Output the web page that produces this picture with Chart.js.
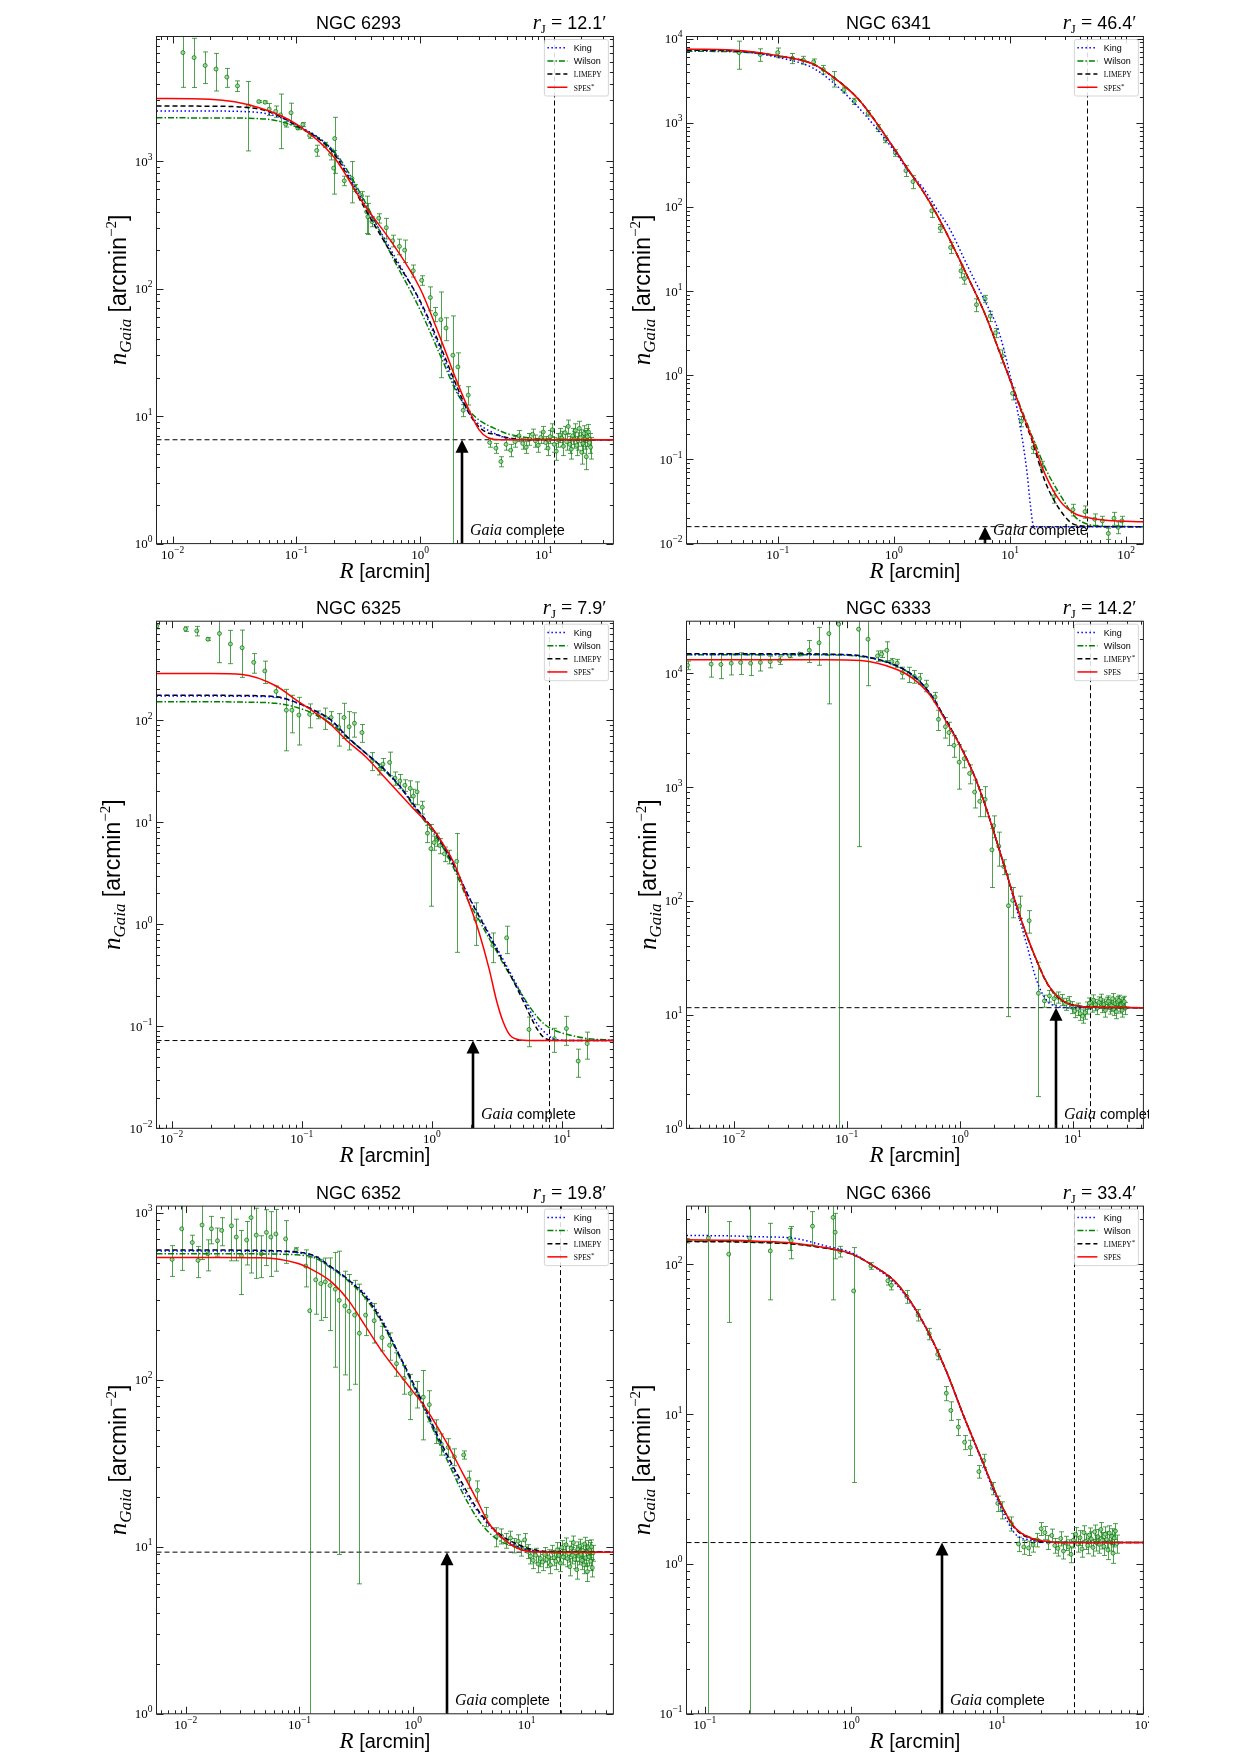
<!DOCTYPE html>
<html>
<head>
<meta charset="utf-8">
<script src="https://cdn.jsdelivr.net/npm/chart.js@4.4.1/dist/chart.umd.min.js"></script>
<style>
  html, body { margin: 0; padding: 0; background: #fff; }
  body { width: 1241px; height: 1754px; position: relative; overflow: hidden; }
  canvas { position: absolute; }
</style>
</head>
<body>
<canvas id="p0"></canvas>
<canvas id="p1"></canvas>
<canvas id="p2"></canvas>
<canvas id="p3"></canvas>
<canvas id="p4"></canvas>
<canvas id="p5"></canvas>
<script>
// ---- panel-level values ----
const clusters = ['NGC 6293', 'NGC 6341', 'NGC 6325', 'NGC 6333', 'NGC 6352', 'NGC 6366'];
const tidalRadius = [12.1, 46.4, 7.9, 14.2, 19.8, 33.4];
const tidalLabel = ['12.1', '46.4', '7.9', '14.2', '19.8', '33.4'];
const background = [6.52, 0.0159, 0.0724, 11.5, 9.29, 1.39];
const gaiaComplete = [2.19, 6.1, 2.06, 7.13, 2.0, 4.19];
const starredModel = ['SPES', 'SPES', 'SPES', 'LIMEPY', 'SPES', 'LIMEPY'];
const xRange = [[0.0074, 36.5], [0.0164, 140.6], [0.00765, 24.8], [0.00382, 42], [0.00552, 58], [0.0751, 100]];
const yRange = [[1, 9470], [0.01, 10600], [0.01, 931], [1, 28800], [1, 1097], [0.1, 245]];

// ---- NGC 6293 ----
const r6293 = [0.0121, 0.0149, 0.0183, 0.0224, 0.0274, 0.0334, 0.041, 0.0497, 0.0558, 0.0603, 0.068, 0.0744, 0.082, 0.0905,
  0.1025, 0.113, 0.128, 0.146, 0.171, 0.189, 0.200, 0.204, 0.244, 0.281, 0.296, 0.336, 0.370, 0.378, 0.408, 0.463, 0.533,
  0.600, 0.680, 0.750, 0.880, 1.03, 1.21, 1.33, 1.47, 1.62, 1.84, 2.02, 2.23, 2.45,
  3.65, 4.1, 4.5, 4.95, 5.4, 5.85, 6.3, 6.75, 7.2, 7.65, 8.1, 8.55, 9.0, 9.45, 9.9, 10.35, 10.8, 11.25, 11.7, 12.15, 12.6,
  13.05, 13.5, 13.95, 14.4, 14.85, 15.3, 15.75, 16.2, 16.65, 17.1, 17.55, 18.0, 18.45, 18.9, 19.35, 19.8, 20.25, 20.7,
  21.15, 21.6, 22.05, 22.5, 22.95, 23.4, 23.85];
const n6293 = [7080, 6470, 5610, 5260, 4550, 3880, 2700, 2925, 2890, 2550, 2450, 2300, 1945, 2390,
  1820, 1930, 1585, 1210, 1340, 1130, 880, 1500, 700, 730, 615, 535, 400, 365, 335, 356, 300,
  237, 214, 200, 138, 116, 85, 63, 57, 49, 30, 24.3, 11.1, 14.6,
  6.2, 5.6, 4.4, 6.0, 5.4, 6.3, 7.0, 6.1, 5.7, 6.6, 7.2, 6.4, 5.9, 6.8, 7.5, 6.2, 5.6, 6.9, 7.8, 6.0, 5.3,
  6.5, 7.1, 6.7, 5.8, 7.4, 6.3, 8.3, 6.0, 5.5, 7.0, 6.6, 7.7, 5.9, 6.4, 8.0, 6.8, 5.2, 6.1,
  7.3, 6.6, 4.8, 6.9, 7.5, 6.2, 5.7];
const s6293 = [3300, 2700, 1560, 1720, 770, 370, 1500, 50, 60, 280, 250, 1050, 100, 450,
  60, 70, 80, 120, 60, 110, 330, 700, 60, 260, 40, 40, 130, 100, 30, 30, 55,
  25, 30, 40, 15, 10, 18, 8, 37, 10, 31, 7, 1.2, 2.4,
  0.5, 0.5, 0.4, 0.6, 0.6, 0.6, 0.7, 0.6, 0.6, 0.7, 0.7, 0.7, 0.7, 0.7, 0.8, 0.7, 0.7, 0.8, 0.9, 0.8, 0.8,
  0.8, 0.9, 0.9, 0.9, 0.9, 0.9, 1.0, 0.9, 0.9, 1.0, 1.0, 1.0, 1.0, 1.0, 1.1, 1.0, 1.0, 1.0,
  1.1, 1.1, 1.0, 1.1, 1.1, 1.1, 1.1];
const grid6293 = [0.0074, 0.02, 0.05, 0.1, 0.2, 0.35, 0.6, 1.0, 1.5, 2.0, 2.5, 3.0, 3.5, 4.0, 5.0, 6.0, 8.0, 12, 20, 36.5];
const king6293 = [2470, 2465, 2400, 1920, 1180, 470, 190, 78, 31, 15.5, 10.5, 8.6, 7.8, 7.3, 6.7, 6.55, 6.52, 6.52, 6.52, 6.52];
const wilson6293 = [2180, 2178, 2150, 1850, 1200, 500, 175, 68, 28, 15, 11, 9.3, 8.5, 8.0, 7.3, 7.0, 6.7, 6.6, 6.55, 6.52];
const limepy6293 = [2700, 2690, 2550, 1900, 1150, 440, 181, 80, 33, 16.7, 10.4, 8.2, 7.4, 7.2, 6.8, 6.6, 6.52, 6.52, 6.52, 6.52];
const spes6293 = [3090, 3050, 2620, 1950, 1080, 460, 225, 100, 38, 18.3, 11.0, 7.8, 6.8, 6.55, 6.52, 6.52, 6.52, 6.52, 6.52, 6.52];

// ---- NGC 6341 ----
const r6341 = [0.0464, 0.0708, 0.1, 0.134, 0.166, 0.204, 0.247, 0.303, 0.372, 0.456, 0.6, 0.735, 0.843, 1.03, 1.27, 1.46,
  2.12, 2.51, 3.08, 3.78, 4.05, 5.14, 6.1, 6.75, 7.5, 8.6, 10.5, 12.5, 15.8, 18.8, 23.9, 34.8, 44.2, 53.5, 62.3, 70.2,
  78.5, 85.3, 91.8];
const n6341 = [6830, 6470, 6830, 5850, 5560, 5280, 4300, 3360, 2460, 1800, 1300, 870, 640, 440, 270, 200,
  90, 56, 33, 17.4, 14.1, 6.9, 8.1, 5.05, 3.2, 1.7, 0.61, 0.284, 0.138, 0.083, 0.0362, 0.0253, 0.024, 0.0195, 0.0186, 0.0132,
  0.020, 0.0156, 0.0186];
const s6341 = [2500, 1100, 900, 800, 600, 450, 500, 700, 200, 150, 100, 80, 60, 40, 40, 35,
  15, 6, 5, 3, 2, 1.2, 0.8, 0.7, 0.4, 0.3, 0.1, 0.04, 0.02, 0.012, 0.006, 0.004, 0.004, 0.003, 0.0025, 0.002,
  0.0035, 0.0025, 0.0025];
const grid6341 = [0.0164, 0.05, 0.1, 0.2, 0.3, 0.5, 1, 1.3, 1.8, 2.3, 3, 4.3, 6, 8, 10, 12, 14, 15, 16, 20, 27, 36, 50, 70, 140.6];
const king6341 = [7400, 7000, 6000, 4500, 3000, 1500, 470, 280, 165, 98, 56, 20, 7.9, 3.3, 1.0, 0.29, 0.07, 0.028,
  0.0159, 0.0159, 0.0159, 0.0159, 0.0159, 0.0159, 0.0159];
const wilson6341 = [7100, 6900, 6200, 5000, 3500, 1880, 500, 290, 150, 85, 42, 15, 5.6, 2.0, 0.9, 0.46, 0.27, 0.21,
  0.17, 0.08, 0.038, 0.021, 0.0166, 0.016, 0.0159];
const limepy6341 = [7300, 7050, 6250, 5010, 3500, 1880, 500, 290, 150, 85, 42, 15, 5.6, 2.0, 0.88, 0.44, 0.24, 0.19,
  0.145, 0.055, 0.025, 0.0168, 0.016, 0.0159, 0.0159];
const spes6341 = [7550, 7180, 6280, 5010, 3500, 1880, 500, 290, 150, 85, 42, 15, 5.6, 2.0, 0.88, 0.44, 0.256, 0.2,
  0.155, 0.067, 0.032, 0.0228, 0.0200, 0.0188, 0.0182];

// ---- NGC 6325 ----
const r6325 = [0.0077, 0.0128, 0.0156, 0.0190, 0.0233, 0.0283, 0.0348, 0.0427, 0.052, 0.0634, 0.0761, 0.084, 0.095, 0.115,
  0.134, 0.152, 0.168, 0.192, 0.211, 0.231, 0.254, 0.29, 0.349, 0.395, 0.42, 0.473, 0.52, 0.567, 0.62, 0.68, 0.72, 0.769,
  0.843, 0.924, 0.982, 1.04, 1.1, 1.15, 1.25, 1.35, 1.55, 2.17, 2.94, 3.75, 5.57, 8.71, 10.8, 13.3, 15.6];
const n6325 = [834, 780, 748, 621, 705, 557, 512, 368, 303, 191, 125, 125, 112, 114,
  113, 106, 106, 85.6, 106, 86, 93, 75.5, 40, 33, 37, 38.5, 27, 25.3, 23, 21.4, 18, 19.8,
  14, 7.8, 5.5, 6.3, 6.8, 5.9, 4.9, 4.6, 4.13, 1.12, 0.62, 0.735, 0.093, 0.0755, 0.095, 0.0456, 0.0676];
const s6325 = [50, 40, 80, 20, 340, 200, 250, 80, 75, 25, 75, 50, 55, 30,
  10, 25, 15, 30, 40, 35, 25, 15, 8, 4, 5, 10, 4, 4, 3, 4, 3, 5,
  2, 1.5, 4, 1, 1, 1, 0.8, 0.7, 3.6, 0.5, 0.2, 0.22, 0.03, 0.02, 0.03, 0.014, 0.02];
const grid6325 = [0.00765, 0.02, 0.035, 0.063, 0.092, 0.124, 0.168, 0.228, 0.31, 0.42, 0.57, 0.77, 1.0, 1.25, 1.5, 1.92,
  2.3, 2.76, 3.12, 3.53, 4.0, 4.8, 5.7, 6.5, 7.3, 8.8, 12, 16, 24.8];
const king6325 = [172, 172, 171, 168, 147, 124, 99, 67, 47.5, 34, 22.3, 13.3, 8.7, 5.6, 3.65, 1.87,
  1.23, 0.8, 0.6, 0.45, 0.335, 0.215, 0.14, 0.104, 0.088, 0.0745, 0.0724, 0.0724, 0.0724];
const wilson6325 = [151, 151, 150, 146, 133, 115, 92, 66, 47.5, 33, 22, 12.8, 8.2, 5.3, 3.35, 1.65,
  1.1, 0.72, 0.55, 0.41, 0.315, 0.215, 0.152, 0.122, 0.105, 0.091, 0.081, 0.0755, 0.073];
const limepy6325 = [175, 175, 174, 170, 148, 125, 100, 67, 47.5, 34, 22.3, 13.4, 8.8, 5.6, 3.6, 1.85,
  1.2, 0.775, 0.578, 0.43, 0.318, 0.2, 0.126, 0.092, 0.077, 0.0727, 0.0724, 0.0724, 0.0724];
const spes6325 = [286, 286, 280, 217, 155, 120, 89.5, 61, 43.7, 28.7, 18.8, 12.4, 8.8, 5.8, 3.8, 1.64,
  0.834, 0.359, 0.183, 0.11, 0.081, 0.0735, 0.0726, 0.0724, 0.0724, 0.0724, 0.0724, 0.0724, 0.0724];

// ---- NGC 6333 ----
const r6333 = [0.0039, 0.00631, 0.0077, 0.0095, 0.0115, 0.0141, 0.0172, 0.021, 0.0255, 0.0313, 0.0382, 0.0466, 0.0568,
  0.0694, 0.0847, 0.127, 0.154, 0.187, 0.203, 0.226, 0.25, 0.279, 0.31, 0.357, 0.396, 0.44, 0.506, 0.603, 0.647, 0.745,
  0.8, 0.888, 0.986, 1.095, 1.22, 1.35, 1.5, 1.67, 1.92, 1.99, 2.21, 2.45, 2.69, 2.93, 3.37, 4.1, 4.95,
  5.6, 6.2, 6.8, 7.4, 8.0, 8.6, 9.2, 9.8, 10.4, 11.0, 11.6, 12.2, 12.8, 13.4, 14.0, 14.6, 15.2, 15.8, 16.4, 17.0,
  17.6, 18.2, 18.8, 19.4, 20.0, 20.6, 21.2, 21.8, 22.4, 23.0, 23.6, 24.2, 24.8, 25.4, 26.0, 26.6, 27.2, 27.8, 28.4, 29.0];
const n6333 = [11800, 12080, 12000, 12300, 12500, 12300, 12500, 12700, 13000, 14260, 14800, 15970, 18600,
  22400, 27100, 24500, 20000, 14260, 14800, 15970, 12740, 12300, 10150, 9830, 9400, 9000, 7800, 6210, 3950, 3400,
  3020, 2330, 1660, 1780, 1320, 906, 750, 780, 281, 459, 302, 200, 90.6, 101, 90, 67, 15.4,
  13.2, 14.6, 13.8, 14.2, 13.5, 12.4, 12.9, 11.6, 10.8, 11.2, 10.2, 9.7, 10.4, 11.5, 12.6, 11.9, 13.4, 12.2, 11.4, 12.8,
  13.6, 11.8, 12.3, 10.9, 12.7, 13.1, 11.5, 12.0, 13.8, 11.2, 12.5, 10.6, 12.9, 13.3, 11.7, 12.2, 10.9, 12.6, 13.0, 11.4];
const s6333 = [1000, 2800, 3000, 2600, 2700, 2700, 2000, 1500, 1000, 500, 500, 3500, 6800,
  17000, 28000, 24200, 12200, 1500, 1000, 3000, 800, 1000, 1200, 1500, 1200, 1000, 900, 600, 800, 700,
  700, 500, 700, 300, 250, 250, 200, 230, 150, 100, 100, 30, 81, 30, 20, 15, 13.5,
  1.6, 1.7, 1.6, 1.6, 1.5, 1.5, 1.5, 1.4, 1.4, 1.4, 1.3, 1.3, 1.3, 1.4, 1.4, 1.4, 1.5, 1.4, 1.4, 1.5,
  1.5, 1.4, 1.4, 1.4, 1.5, 1.5, 1.4, 1.4, 1.5, 1.4, 1.5, 1.4, 1.5, 1.5, 1.4, 1.5, 1.4, 1.5, 1.5, 1.4];
const grid6333 = [0.00382, 0.03, 0.066, 0.133, 0.27, 0.383, 0.543, 0.77, 1.0, 1.35, 1.67, 2.06, 2.54, 3.14, 3.87, 4.77,
  5.9, 7.3, 9.0, 11.9, 16, 42];
const king6333 = [14700, 14700, 14650, 14200, 11800, 9600, 6700, 3750, 2350, 1245, 700, 365, 183, 88, 42.5, 20,
  13.2, 11.8, 11.5, 11.5, 11.5, 11.5];
const wilson6333 = [14600, 14600, 14550, 14100, 11700, 9600, 6650, 3720, 2340, 1243, 700, 365, 185, 93.5, 50.8, 30.2,
  19.1, 14.5, 12.6, 11.8, 11.6, 11.5];
const limepy6333 = [14900, 14900, 14800, 14300, 11800, 9640, 6700, 3750, 2350, 1245, 700, 365, 185, 93.5, 50.5, 29.8,
  18.8, 14.3, 12.5, 11.8, 11.6, 11.5];
const spes6333 = [13200, 13200, 13200, 13000, 10950, 9060, 6450, 3660, 2330, 1240, 700, 365, 185, 94, 51, 30,
  18.9, 14.4, 12.5, 11.8, 11.6, 11.5];

// ---- NGC 6352 ----
const r6352 = [0.00757, 0.0092, 0.0114, 0.0128, 0.0139, 0.0156, 0.0168, 0.019, 0.0207, 0.0252, 0.0278, 0.0309, 0.0343,
  0.0375, 0.0417, 0.0461, 0.0512, 0.056, 0.062, 0.0756, 0.0935, 0.1137, 0.1232, 0.139, 0.154, 0.169, 0.186, 0.207, 0.224,
  0.251, 0.273, 0.306, 0.337, 0.382, 0.455, 0.533, 0.622, 0.715, 0.834, 0.946, 1.087, 1.23, 1.39, 1.6, 1.77, 2.04, 2.31,
  2.79, 3.1, 3.69, 4.38, 5.4,
  6.0, 6.6, 7.2, 7.8, 8.4, 9.0, 9.6, 10.2, 10.8, 11.4, 12.0, 12.6, 13.2, 13.8, 14.4, 15.0, 15.6, 16.2, 16.8, 17.4, 18.0,
  18.6, 19.2, 19.8, 20.4, 21.0, 21.6, 22.2, 22.8, 23.4, 24.0, 24.6, 25.2, 25.8, 26.4, 27.0, 27.6, 28.2, 28.8, 29.4, 30.0,
  30.6, 31.2, 31.8, 32.4, 33.0, 33.6, 34.2, 34.8, 35.4, 36.0, 36.6, 37.2, 37.8, 38.4];
const n6352 = [526, 802, 664, 519, 845, 569, 802, 680, 785, 836, 716, 554, 687,
  936, 735, 569, 763, 716, 747, 698, 598, 480, 259, 397, 377, 386, 367, 349, 299,
  277, 257, 244, 190, 244, 226, 179, 161, 125, 102, 82.8, 82.8, 78.7, 71, 49.6, 41.4, 39.4, 34.6,
  35.5, 25.4, 21.8, 15.2, 11.5,
  11.6, 10.9, 11.3, 10.2, 10.8, 9.8, 11.0, 9.4, 8.8, 8.3, 8.9, 7.9, 8.5, 8.1, 9.0, 8.4, 8.7, 7.8, 9.3, 8.6, 8.2,
  9.6, 8.9, 8.0, 9.9, 8.7, 9.4, 10.3, 8.5, 9.1, 7.6, 9.8, 8.9, 10.6, 8.4, 9.2, 7.3, 9.7, 8.8, 10.1, 9.0,
  8.3, 9.5, 7.8, 10.4, 8.6, 9.3, 7.1, 9.9, 8.7, 9.6, 8.2, 10.0, 7.5, 9.2];
const s6352 = [110, 350, 70, 110, 320, 120, 150, 130, 150, 320, 200, 230, 200,
  500, 330, 160, 280, 300, 300, 200, 20, 120, 280, 150, 150, 150, 170, 230, 290,
  170, 170, 150, 184, 60, 60, 30, 30, 20, 20, 25, 15, 35, 15, 8, 6, 5, 4,
  2, 3, 3, 2, 1.5,
  1.2, 1.1, 1.1, 1.0, 1.0, 1.0, 1.0, 0.9, 0.9, 0.9, 0.9, 0.9, 0.9, 0.9, 0.9, 0.9, 0.9, 0.9, 0.9, 0.9, 0.9,
  1.0, 0.9, 0.9, 1.0, 0.9, 1.0, 1.0, 0.9, 1.0, 0.9, 1.0, 1.0, 1.0, 1.0, 1.0, 0.9, 1.0, 1.0, 1.0, 1.0,
  1.0, 1.0, 0.9, 1.0, 1.0, 1.0, 0.9, 1.0, 1.0, 1.0, 1.0, 1.0, 0.9, 1.0];
const grid6352 = [0.00552, 0.02, 0.047, 0.094, 0.134, 0.19, 0.27, 0.382, 0.541, 0.767, 1.0, 1.25, 1.54, 2.04, 2.69, 3.56,
  4.7, 6.2, 8.2, 10.2, 12.5, 16, 58];
const king6352 = [590, 590, 588, 578, 550, 472, 398, 323, 225, 138, 95, 69, 50, 33.5, 23, 16.9,
  13.4, 11.2, 10.1, 9.6, 9.4, 9.3, 9.29];
const wilson6352 = [569, 569, 567, 560, 540, 467, 390, 307, 215, 135, 93, 67, 48.5, 32, 21.5, 15.3,
  12.1, 10.6, 10.0, 9.6, 9.4, 9.3, 9.29];
const limepy6352 = [598, 598, 595, 583, 555, 475, 397, 315, 220, 138, 96, 70, 51, 34.5, 24.2, 17.4,
  13.6, 11.5, 10.4, 9.8, 9.5, 9.35, 9.29];
const spes6352 = [540, 540, 538, 500, 451, 387, 299, 209, 146, 107, 85, 70, 56, 40.4, 28.2, 19.7,
  13.7, 11.2, 9.84, 9.4, 9.3, 9.29, 9.29];

// ---- NGC 6366 ----
const r6366 = [0.0755, 0.106, 0.146, 0.203, 0.281, 0.382, 0.39, 0.546, 0.755, 0.78, 0.84, 1.044, 1.37, 1.79, 1.89, 2.41,
  2.88, 3.43, 3.92, 4.49, 4.82, 5.43, 5.99, 6.55, 7.5, 8.1, 9.3, 10.1, 10.8, 12.5,
  14.0, 15.2, 16.4, 17.6, 18.8, 20.0, 21.2, 22.4, 23.6, 24.8, 26.0, 27.2, 28.4, 29.6, 30.8, 32.0, 33.2, 34.4, 35.6, 36.8,
  38.0, 39.2, 40.4, 41.6, 42.8, 44.0, 45.2, 46.4, 47.6, 48.8, 50.0, 51.2, 52.4, 53.6, 54.8, 56.0, 57.2, 58.4, 59.6, 60.8,
  62.0, 63.2, 64.4, 65.6];
const n6366 = [144, 150, 117, 150, 123, 149, 144, 180, 206, 164, 122, 66.5, 97.7, 77.8, 72.6, 61,
  45.9, 34.4, 25.1, 13.8, 10.6, 8.2, 6.5, 6.0, 4.14, 4.9, 3.2, 2.54, 2.3, 1.86,
  1.36, 1.30, 1.28, 1.34, 1.45, 1.72, 1.62, 1.40, 1.55, 1.33, 1.27, 1.48, 1.22, 1.38, 1.30, 1.16, 1.44, 1.58, 1.36, 1.50,
  1.26, 1.62, 1.42, 1.33, 1.56, 1.47, 1.29, 1.64, 1.39, 1.52, 1.35, 1.70, 1.44, 1.31, 1.58, 1.46, 1.24, 1.61, 1.40, 1.53,
  1.18, 1.49, 1.66, 1.37];
const s6366 = [5, 400, 76, 400, 65, 25, 35, 45, 148, 55, 10, 63, 5, 5, 5, 6,
  4, 3, 2, 1.5, 1.5, 1, 0.7, 0.7, 0.4, 0.5, 0.3, 0.3, 0.3, 0.2,
  0.15, 0.14, 0.14, 0.14, 0.15, 0.17, 0.16, 0.15, 0.16, 0.15, 0.14, 0.16, 0.14, 0.15, 0.15, 0.14, 0.16, 0.17, 0.16, 0.17,
  0.15, 0.18, 0.17, 0.16, 0.18, 0.17, 0.16, 0.18, 0.17, 0.18, 0.17, 0.19, 0.18, 0.17, 0.19, 0.18, 0.17, 0.19, 0.18, 0.19,
  0.17, 0.19, 0.2, 0.19];
const grid6366 = [0.0751, 0.15, 0.23, 0.395, 0.678, 1.0, 1.52, 2.0, 2.62, 3.43, 4.49, 5.89, 7.7, 10.1, 13.2, 17.3, 22.7, 30, 100];
const king6366 = [156, 155, 153, 150, 132.5, 120, 93, 75, 53.5, 34, 19.2, 9.7, 5.1, 2.65, 1.6, 1.44, 1.40, 1.39, 1.39];
const wilson6366 = [143, 142.5, 141, 138, 128.5, 118, 94, 76.9, 54.5, 34.4, 19.4, 9.8, 5.2, 2.78, 1.76, 1.49, 1.41, 1.39, 1.39];
const limepy6366 = [142, 141.5, 140, 137, 128, 117.5, 94, 76.9, 54.5, 34.4, 19.4, 9.8, 5.2, 2.77, 1.73, 1.47, 1.40, 1.39, 1.39];
const spes6366 = [146, 145, 143, 139, 129, 118, 94, 76.9, 54.5, 34.4, 19.4, 9.78, 5.2, 2.77, 1.75, 1.48, 1.41, 1.39, 1.39];

const panelData = [
  { r: r6293, n: n6293, s: s6293, grid: grid6293, king: king6293, wilson: wilson6293, limepy: limepy6293, spes: spes6293 },
  { r: r6341, n: n6341, s: s6341, grid: grid6341, king: king6341, wilson: wilson6341, limepy: limepy6341, spes: spes6341 },
  { r: r6325, n: n6325, s: s6325, grid: grid6325, king: king6325, wilson: wilson6325, limepy: limepy6325, spes: spes6325 },
  { r: r6333, n: n6333, s: s6333, grid: grid6333, king: king6333, wilson: wilson6333, limepy: limepy6333, spes: spes6333 },
  { r: r6352, n: n6352, s: s6352, grid: grid6352, king: king6352, wilson: wilson6352, limepy: limepy6352, spes: spes6352 },
  { r: r6366, n: n6366, s: s6366, grid: grid6366, king: king6366, wilson: wilson6366, limepy: limepy6366, spes: spes6366 },
];

// ---- page layout (px) ----
const canvasCols = [[60, 620], [620, 1149]];
const canvasRows = [[0, 585], [585, 1170], [1170, 1754]];
const areaCols = [[156.5, 613.4], [686.5, 1143.4]];
const areaRows = [[36.5, 543.6], [621.2, 1128.3], [1206.1, 1713.8]];

const SANS = '"Liberation Sans", "DejaVu Sans", Arial, sans-serif';
const SERIF = '"Liberation Serif", "DejaVu Serif", "Times New Roman", serif';

const MODELS = [
  { key: 'king', label: 'King', color: '#0000ff', dash: [1.5, 2.5], order: 2 },
  { key: 'wilson', label: 'Wilson', color: '#008000', dash: [6, 2, 1.5, 2], order: 4 },
  { key: 'limepy', label: 'LIMEPY', color: '#000000', dash: [5, 3], order: 3 },
  { key: 'spes', label: 'SPES', color: '#ff0000', dash: [], order: 1 },
];

function drawRuns(ctx, runs, x, y, align) {
  let total = 0;
  runs.forEach(r => { ctx.font = r.font; r.w = ctx.measureText(r.t).width; total += r.w; });
  let cx = align === 'center' ? x - total / 2 : align === 'right' ? x - total : x;
  ctx.textAlign = 'left';
  ctx.textBaseline = 'alphabetic';
  runs.forEach(r => { ctx.font = r.font; ctx.fillText(r.t, cx, y + (r.dy || 0)); cx += r.w; });
  return total;
}

function powerRuns(e) {
  return [
    { t: '10', font: '13px ' + SERIF },
    { t: (e < 0 ? '\u2212' : '') + Math.abs(e), font: '9.5px ' + SERIF, dy: -6 },
  ];
}

function logTicks(min, max) {
  const major = [], minor = [];
  for (let e = Math.floor(Math.log10(min)); e <= Math.ceil(Math.log10(max)); e++) {
    for (let k = 1; k <= 9; k++) {
      const v = k * Math.pow(10, e);
      if (v < min * 0.9999 || v > max * 1.0001) continue;
      (k === 1 ? major : minor).push({ v, e });
    }
  }
  return { major, minor };
}

function makeDecor(i) {
  const p = panelData[i];
  return {
    id: 'decor' + i,
    beforeDatasetsDraw(chart) {
      const { ctx, chartArea: a, scales: { x, y } } = chart;
      ctx.save();
      ctx.beginPath();
      ctx.rect(a.left, a.top, a.right - a.left, a.bottom - a.top);
      ctx.clip();
      // background level and tidal radius
      ctx.strokeStyle = '#000';
      ctx.lineWidth = 1;
      ctx.setLineDash([5, 3]);
      const by = y.getPixelForValue(background[i]);
      ctx.beginPath(); ctx.moveTo(a.left, by); ctx.lineTo(a.right, by); ctx.stroke();
      const tx = Math.round(x.getPixelForValue(tidalRadius[i])) + 0.5;
      ctx.beginPath(); ctx.moveTo(tx, a.top); ctx.lineTo(tx, a.bottom); ctx.stroke();
      ctx.setLineDash([]);
      // error bars
      ctx.strokeStyle = 'rgba(20,130,20,0.75)';
      p.r.forEach((r, k) => {
        const px = Math.round(x.getPixelForValue(r)) + 0.5;
        const hi = y.getPixelForValue(p.n[k] + p.s[k]);
        const loV = p.n[k] - p.s[k];
        const lo = loV > 0 ? y.getPixelForValue(loV) : a.bottom + 10;
        ctx.beginPath();
        ctx.moveTo(px, hi); ctx.lineTo(px, lo);
        ctx.moveTo(px - 2.5, hi); ctx.lineTo(px + 2.5, hi);
        if (loV > 0) { ctx.moveTo(px - 2.5, lo); ctx.lineTo(px + 2.5, lo); }
        ctx.stroke();
      });
      ctx.restore();
    },
    afterDatasetsDraw(chart) {
      const { ctx, chartArea: a, scales: { x, y } } = chart;
      // completeness arrow
      ctx.save();
      ctx.beginPath();
      ctx.rect(a.left, a.top, a.right - a.left, a.bottom - a.top);
      ctx.clip();
      const ax = Math.round(x.getPixelForValue(gaiaComplete[i]));
      const tip = y.getPixelForValue(background[i]);
      const headL = 13, headW = 6.5;
      ctx.fillStyle = '#000';
      if (a.bottom > tip + headL) ctx.fillRect(ax - 1.3, tip + headL - 1, 2.6, a.bottom - tip - headL + 1);
      ctx.beginPath();
      ctx.moveTo(ax, tip); ctx.lineTo(ax - headW, tip + headL); ctx.lineTo(ax + headW, tip + headL);
      ctx.closePath(); ctx.fill();
      ctx.restore();
      ctx.fillStyle = '#000';
      drawRuns(ctx, [
        { t: 'Gaia', font: 'italic 16px ' + SERIF },
        { t: ' complete', font: '14.5px ' + SANS },
      ], ax + 8, a.bottom - 9, 'left');
    },
    afterDraw(chart) {
      const { ctx, chartArea: a, scales: { x, y } } = chart;
      ctx.save();
      ctx.strokeStyle = '#222';
      ctx.fillStyle = '#000';
      ctx.lineWidth = 1;
      ctx.strokeRect(a.left, a.top, a.right - a.left, a.bottom - a.top);
      const xt = logTicks(xRange[i][0], xRange[i][1]);
      const yt = logTicks(yRange[i][0], yRange[i][1]);
      ctx.beginPath();
      [[xt.major, 7], [xt.minor, 3.5]].forEach(([list, len]) => list.forEach(t => {
        const px = Math.round(x.getPixelForValue(t.v)) + 0.5;
        ctx.moveTo(px, a.bottom); ctx.lineTo(px, a.bottom - len);
        ctx.moveTo(px, a.top); ctx.lineTo(px, a.top + len);
      }));
      [[yt.major, 7], [yt.minor, 3.5]].forEach(([list, len]) => list.forEach(t => {
        const py = Math.round(y.getPixelForValue(t.v)) + 0.5;
        ctx.moveTo(a.left, py); ctx.lineTo(a.left + len, py);
        ctx.moveTo(a.right, py); ctx.lineTo(a.right - len, py);
      }));
      ctx.stroke();
      // tick labels
      xt.major.forEach(t => drawRuns(ctx, powerRuns(t.e), x.getPixelForValue(t.v), a.bottom + 15, 'center'));
      let maxW = 0;
      yt.major.forEach(t => {
        maxW = Math.max(maxW, drawRuns(ctx, powerRuns(t.e), a.left - 4, y.getPixelForValue(t.v) + 4.5, 'right'));
      });
      // axis titles
      drawRuns(ctx, [
        { t: 'R', font: 'italic 23px ' + SERIF },
        { t: ' [arcmin]', font: '20px ' + SANS },
      ], (a.left + a.right) / 2, a.bottom + 34, 'center');
      ctx.save();
      ctx.translate(a.left - maxW - 21, (a.top + a.bottom) / 2);
      ctx.rotate(-Math.PI / 2);
      drawRuns(ctx, [
        { t: 'n', font: 'italic 25px ' + SERIF },
        { t: 'Gaia', font: 'italic 17px ' + SERIF, dy: 5 },
        { t: ' [arcmin', font: '23px ' + SANS },
        { t: '\u22122', font: '15px ' + SERIF, dy: -10 },
        { t: ']', font: '23px ' + SANS },
      ], 0, 8, 'center');
      ctx.restore();
      // titles
      drawRuns(ctx, [{ t: clusters[i], font: '18px ' + SANS }],
        a.left + 0.442 * (a.right - a.left), a.top - 7.5, 'center');
      drawRuns(ctx, [
        { t: 'r', font: 'italic 21px ' + SERIF },
        { t: 'J', font: '13px ' + SERIF, dy: 4 },
        { t: ' = ', font: '20px ' + SERIF },
        { t: tidalLabel[i], font: '18px ' + SANS },
        { t: '\u2032', font: '19px ' + SERIF },
      ], a.right - 7, a.top - 7.5, 'right');
      // legend
      const bx = a.right - 69, by = a.top + 3;
      ctx.fillStyle = 'rgba(255,255,255,0.85)';
      ctx.strokeStyle = '#cccccc';
      ctx.lineWidth = 0.8;
      ctx.beginPath();
      ctx.roundRect(bx, by, 64, 56.5, 2);
      ctx.fill(); ctx.stroke();
      MODELS.forEach((m, k) => {
        const ry = a.top + 11.3 + k * 13.15;
        ctx.strokeStyle = m.color;
        ctx.lineWidth = 1.5;
        ctx.setLineDash(m.dash);
        ctx.beginPath(); ctx.moveTo(a.right - 66, ry); ctx.lineTo(a.right - 46, ry); ctx.stroke();
        ctx.setLineDash([]);
        ctx.fillStyle = '#000';
        const star = starredModel[i] === m.label;
        const runs = (m.key === 'limepy' || m.key === 'spes')
          ? [{ t: m.label, font: '7.5px ' + SERIF }]
          : [{ t: m.label, font: '9px ' + SANS }];
        if (star) runs.push({ t: '*', font: '7px ' + SERIF, dy: -3 });
        drawRuns(ctx, runs, a.right - 39.6, ry + 3.3, 'left');
      });
      ctx.restore();
    },
  };
}

for (let i = 0; i < 6; i++) {
  const col = i % 2, row = Math.floor(i / 2);
  const cv = document.getElementById('p' + i);
  const [cl, cr] = canvasCols[col], [ct, cb] = canvasRows[row];
  const [al, ar] = areaCols[col], [at, ab] = areaRows[row];
  cv.width = cr - cl; cv.height = cb - ct;
  cv.style.left = cl + 'px'; cv.style.top = ct + 'px';
  cv.style.width = (cr - cl) + 'px'; cv.style.height = (cb - ct) + 'px';
  const p = panelData[i];
  const datasets = [{
    label: 'data',
    data: p.r.map((r, k) => ({ x: r, y: p.n[k] })),
    pointRadius: 2,
    pointBorderWidth: 0.8,
    pointBorderColor: 'rgba(0,120,0,0.9)',
    pointBackgroundColor: 'rgba(150,210,150,0.8)',
    order: 10,
  }];
  MODELS.forEach(m => datasets.push({
    label: m.label,
    data: p.grid.map((r, k) => ({ x: r, y: p[m.key][k] })),
    showLine: true,
    pointRadius: 0,
    borderColor: m.color,
    borderWidth: 1.5,
    borderDash: m.dash,
    cubicInterpolationMode: 'monotone',
    order: m.order,
  }));
  new Chart(cv, {
    type: 'scatter',
    data: { datasets },
    options: {
      responsive: false,
      animation: false,
      events: [],
      layout: { padding: { left: al - cl, right: cr - ar, top: at - ct, bottom: cb - ab } },
      plugins: { legend: { display: false }, tooltip: { enabled: false } },
      scales: {
        x: { type: 'logarithmic', min: xRange[i][0], max: xRange[i][1], display: false },
        y: { type: 'logarithmic', min: yRange[i][0], max: yRange[i][1], display: false },
      },
    },
    plugins: [makeDecor(i)],
  });
}
</script>
</body>
</html>
